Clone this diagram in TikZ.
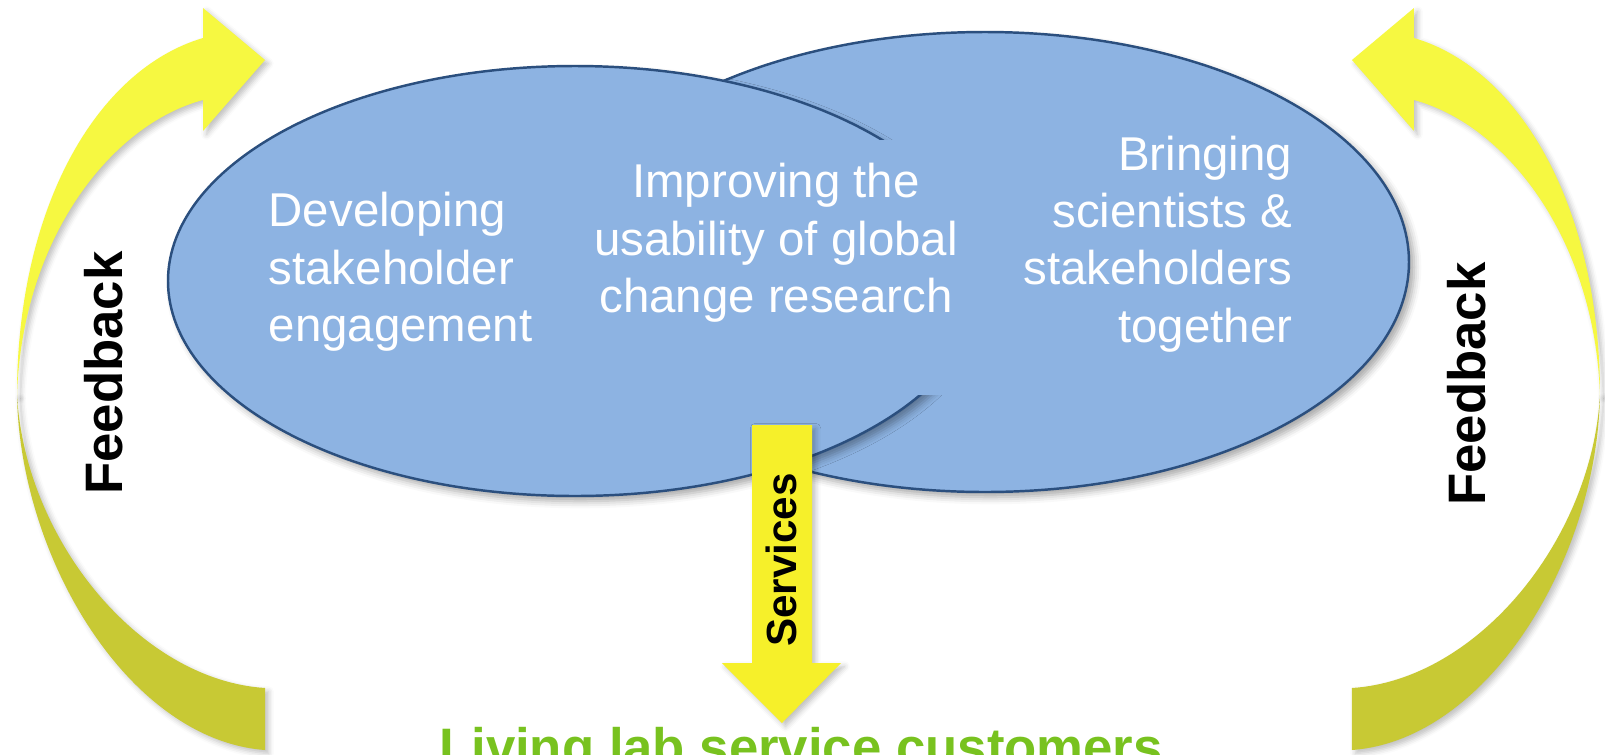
\documentclass[tikz,border=0pt]{standalone}
\usepackage{xcolor}
\usepackage{fontspec}
\setmainfont{Liberation Sans}
\usepackage{tikz}
\usetikzlibrary{positioning,shapes.geometric,shadows.blur}
\definecolor{cloud}{HTML}{8DB3E2}
\definecolor{rim}  {HTML}{2B4F7E}
\definecolor{beam} {HTML}{F6F02A}
\definecolor{lemon}{HTML}{F6F841}
\definecolor{olive}{HTML}{C8C934}
\definecolor{leaf} {HTML}{78C21F}

\begin{document}
\begin{tikzpicture}[
  x=0.1mm,y=-0.1mm,
  oval/.style={ellipse,draw=rim,line width=0.7pt,fill=cloud,inner sep=0pt,
               blur shadow={shadow xshift=1.5pt,shadow yshift=-1.5pt,
                            shadow blur radius=2pt,shadow opacity=35}},
  words/.style={text=white,inner sep=0pt,font=\fontsize{13.5}{16.3}\selectfont},
  loud/.style={inner sep=0pt,font=\bfseries\fontsize{15}{18}\selectfont},
  soft/.style={blur shadow={shadow xshift=1pt,shadow yshift=-1pt,
                            shadow blur radius=1.5pt,shadow opacity=25}}]

\clip (0,0) rectangle (1605,755);

% feedback loops, left one and its mirror
\foreach \flip/\shift in {1/0,-1/161.7}{
  \begin{scope}[xshift=\shift mm,xscale=\flip]
    \fill[olive,soft] (17,395) .. controls (20,560) and (130,740) .. (265,750)
      -- (265,688) .. controls (140,680) and (25,540) .. (17,395) -- cycle;
    \fill[lemon,soft] (17,395) .. controls (17,210) and (95,70) .. (203,38)
      -- (203,8) -- (265,60) -- (203,131) -- (203,100)
      .. controls (110,125) and (22,240) .. (17,395) -- cycle;
  \end{scope}}

\node[oval,minimum width=84.8mm,minimum height=46mm] (bring) at (985,262) {};
\node[oval,minimum width=81.4mm,minimum height=43mm] (develop) at (575,281) {};
\node[fill=cloud,inner sep=0pt,minimum width=41.4mm,minimum height=25.5mm]
  (patch) at (803,267) {};

\node[words,align=left,anchor=west] (devtxt) at (268,272)
  {Developing\\stakeholder\\engagement};
\node[words,align=center] (usetxt) at (776,243)
  {Improving the\\usability of global\\change research};
\node[words,align=right,anchor=east] (bringtxt) at (1293,244)
  {Bringing\\scientists \&\\stakeholders\\together};

\node[loud,rotate=90] (fbleft) at (104,373) {Feedback};
\node[loud,rotate=90] (fbright) at (1467,384) {Feedback};

% services arrow
\fill[beam,soft] (752,425) -- (812,425) -- (812,663) -- (841,663) -- (782,723)
  -- (722,663) -- (752,663) -- cycle;
\node[inner sep=0pt,font=\bfseries\fontsize{12}{14}\selectfont,rotate=90]
  (serv) at (781,560) {Services};

\node[loud,text=leaf,anchor=base] (cust) at (801,765)
  {Living lab service customers};
\end{tikzpicture}
\end{document}
